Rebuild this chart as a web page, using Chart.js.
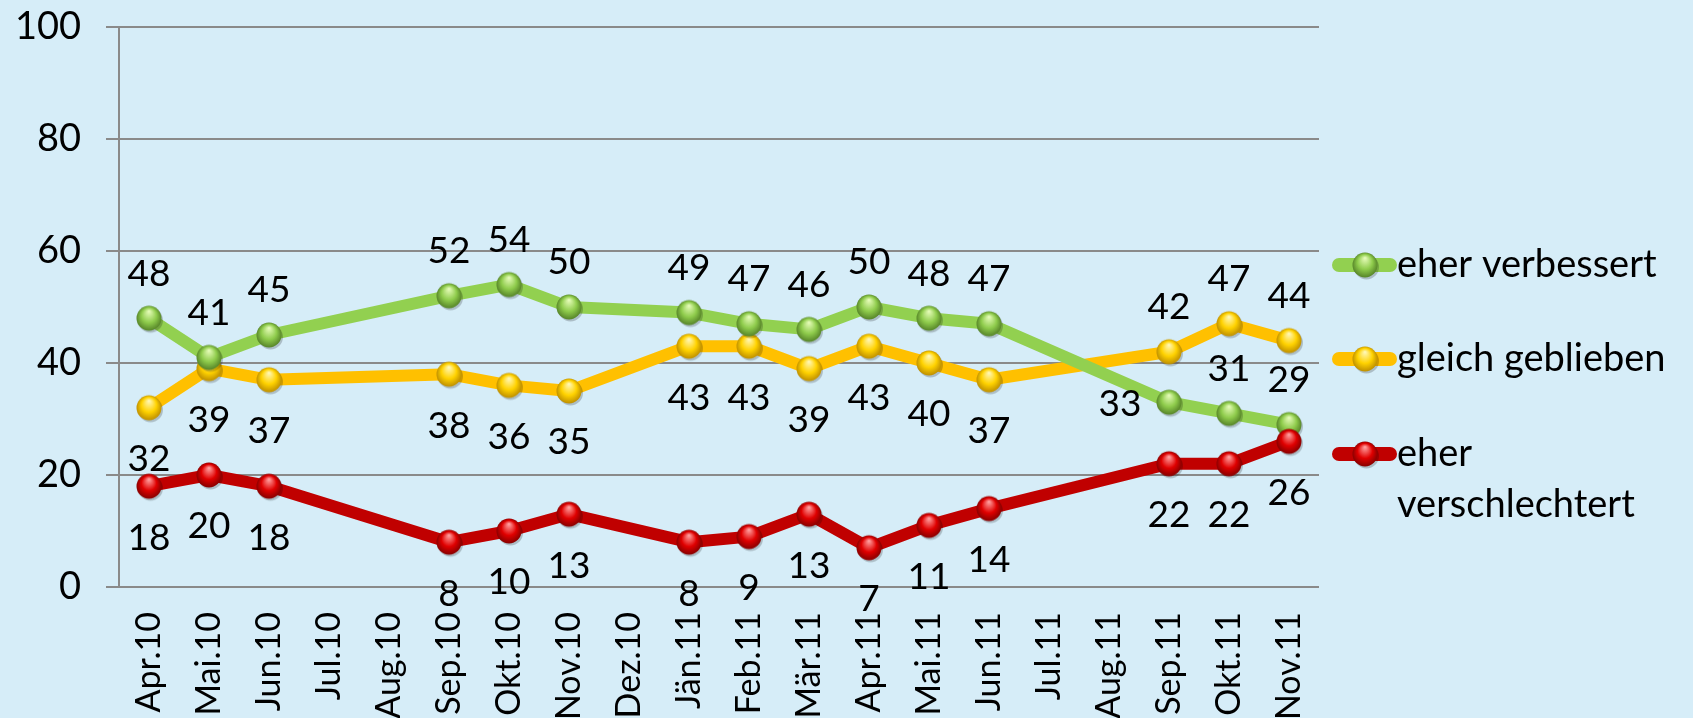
<!DOCTYPE html>
<html><head><meta charset="utf-8">
<script src="https://cdn.jsdelivr.net/npm/chart.js@4.4.0/dist/chart.umd.min.js"></script>
<style>html,body{margin:0;padding:0;background:#d6edf8;overflow:hidden}canvas{display:block}</style>
</head><body>
<canvas id="c" width="1693" height="718"></canvas>
<script>
// ---- data ----
const categories = ['Apr.10','Mai.10','Jun.10','Jul.10','Aug.10','Sep.10','Okt.10','Nov.10','Dez.10','Jän.11','Feb.11','Mär.11','Apr.11','Mai.11','Jun.11','Jul.11','Aug.11','Sep.11','Okt.11','Nov.11'];
const verbessert     = [48,41,45,null,null,52,54,50,null,49,47,46,50,48,47,null,null,33,31,29];
const gleich         = [32,39,37,null,null,38,36,35,null,43,43,39,43,40,37,null,null,42,47,44];
const verschlechtert = [18,20,18,null,null,8,10,13,null,8,9,13,7,11,14,null,null,22,22,26];
const seriesNames = ['eher verbessert','gleich geblieben',['eher','verschlechtert']];
const yTicks = [0,20,40,60,80,100];

// ---- styling ----
const FONT = 'Lato';
const BG = '#d6edf8';
const colors = ['#92d050','#ffc000','#c00000'];
const ballStops = [
  ['#e2fab4','#8fcc4c','#527f26'],
  ['#fff6b0','#ffd200','#b98a00'],
  ['#ff9a9a','#e00000','#800000']
];
// label placement per dataset (style, not data)
const placement = [
  i => i === 17 ? 'left' : 'above',
  i => i >= 17 ? 'above' : 'below',
  i => 'below'
];

function ball(stops, r){
  const s = Math.ceil(2*r + 7);
  const c = document.createElement('canvas'); c.width = s; c.height = s;
  const g = c.getContext('2d'); const cx = s/2, cy = s/2;
  g.beginPath(); g.arc(cx+1.5, cy+2, r, 0, Math.PI*2); g.fillStyle = 'rgba(0,0,0,0.2)'; g.fill();
  const grd = g.createRadialGradient(cx, cy - r*0.55, r*0.05, cx, cy, r*1.05);
  grd.addColorStop(0, stops[0]); grd.addColorStop(0.55, stops[1]); grd.addColorStop(1, stops[2]);
  g.beginPath(); g.arc(cx, cy, r, 0, Math.PI*2); g.fillStyle = grd; g.fill();
  return c;
}
const balls = ballStops.map(s => ball(s, 12.5));

const bgPlugin = {
  id: 'bg',
  beforeDraw(chart){ const c = chart.ctx; c.save(); c.fillStyle = BG; c.fillRect(0,0,chart.width,chart.height); c.restore(); }
};

const labelsPlugin = {
  id: 'vlabels',
  afterDatasetsDraw(chart){
    const c = chart.ctx; const size = 37;
    c.save(); c.font = size + 'px ' + FONT; c.fillStyle = '#000'; c.textAlign = 'center'; c.textBaseline = 'alphabetic';
    chart.data.datasets.forEach((ds, di) => {
      const meta = chart.getDatasetMeta(di);
      meta.data.forEach((pt, i) => {
        const v = ds.data[i]; if (v === null || v === undefined) return;
        let x = pt.x, y = pt.y;
        const p = placement[di](i);
        if (p === 'above') y -= 46; else if (p === 'below') y += 50; else if (p === 'left') x -= 49;
        c.fillText(String(v), x, y + size*0.36);
      });
    });
    c.restore();
  }
};

const legendPlugin = {
  id: 'customLegend',
  afterDraw(chart){
    const c = chart.ctx; const size = 38;
    const ys = [265, 359, 454];
    c.save(); c.font = size + 'px ' + FONT; c.fillStyle = '#000'; c.textAlign = 'left'; c.textBaseline = 'alphabetic';
    chart.data.datasets.forEach((ds, di) => {
      const y = ys[di];
      c.beginPath(); c.moveTo(1339, y); c.lineTo(1390, y);
      c.lineWidth = 14; c.lineCap = 'round'; c.strokeStyle = ds.borderColor; c.stroke();
      const b = balls[di]; c.drawImage(b, 1365 - b.width/2, y - b.height/2);
      const lines = Array.isArray(ds.label) ? ds.label : [ds.label];
      lines.forEach((t, k) => c.fillText(t, 1397, y + 12 + k*51));
    });
    c.restore();
  }
};

function mk(di, data){
  return {
    label: seriesNames[di], data,
    borderColor: colors[di], backgroundColor: colors[di],
    borderWidth: 12, borderJoinStyle: 'round', borderCapStyle: 'round',
    pointStyle: balls[di], pointRadius: 12, pointHoverRadius: 12,
    spanGaps: true, tension: 0, order: [1,2,0][di]
  };
}

new Chart(document.getElementById('c'), {
  type: 'line',
  data: { labels: categories, datasets: [mk(0, verbessert), mk(1, gleich), mk(2, verschlechtert)] },
  options: {
    responsive: false, animation: false, devicePixelRatio: 1,
    layout: { padding: { top: 27, right: 374, left: 0, bottom: 0 } },
    plugins: { legend: { display: false }, tooltip: { enabled: false } },
    scales: {
      x: {
        offset: true,
        grid: { display: false, drawTicks: false },
        border: { display: false },
        ticks: { color: '#000', font: { family: FONT, size: 34 }, minRotation: 90, maxRotation: 90, padding: 25, autoSkip: false },
        afterFit(s){ s.height = 131; s.paddingLeft = 0; s.paddingRight = 0; }
      },
      y: {
        min: 0, max: 100,
        afterBuildTicks(s){ s.ticks = yTicks.map(v => ({ value: v })); },
        ticks: { color: '#000', font: { family: FONT, size: 38 }, padding: 25 },
        grid: { color: '#8a8a8a', lineWidth: 2, tickLength: 13, drawTicks: true },
        border: { display: true, color: '#8a8a8a', width: 2 },
        afterFit(s){ s.width = 119; s.paddingTop = 0; s.paddingBottom = 0; }
      }
    }
  },
  plugins: [bgPlugin, labelsPlugin, legendPlugin]
});
</script>
</body></html>
